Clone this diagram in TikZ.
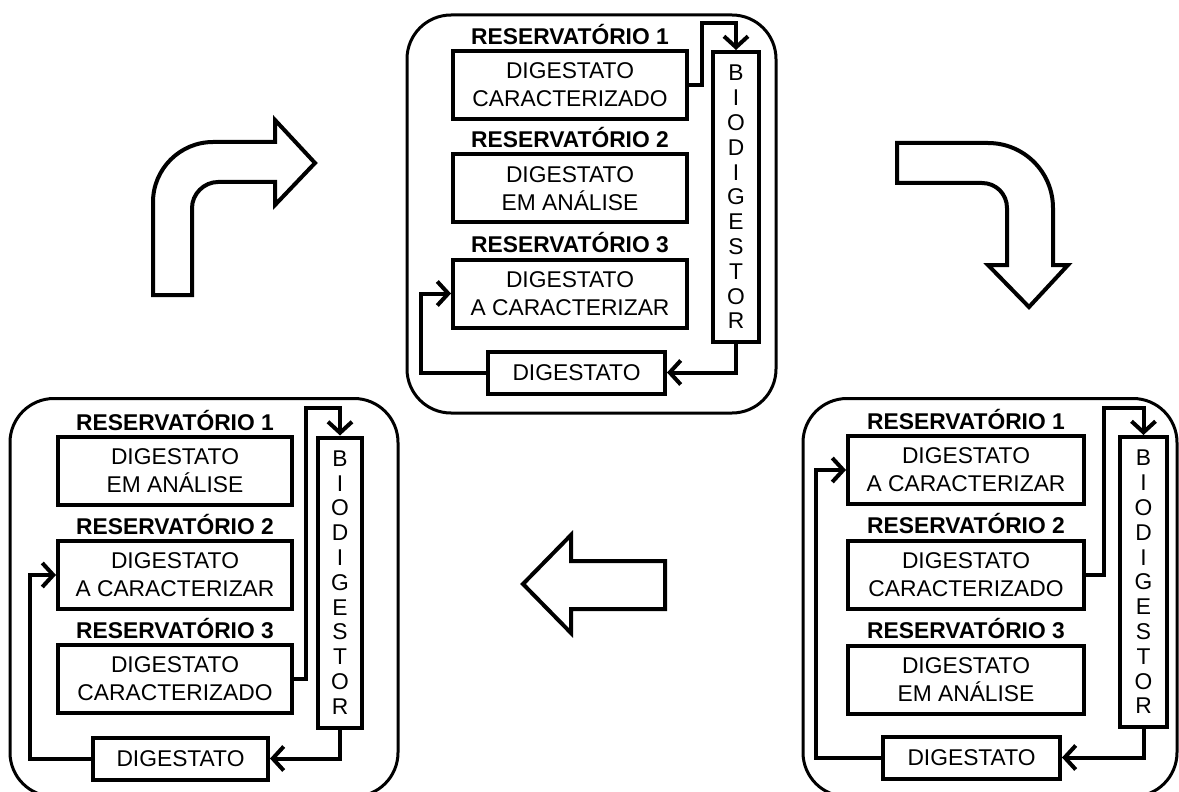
\documentclass[tikz,border=0pt]{standalone}
\usepackage{fontspec}
\setmainfont{Liberation Sans}
\usetikzlibrary{arrows.meta,positioning,calc}
\begin{document}
\begin{tikzpicture}[x=0.5pt, y=-0.5pt, >={Straight Barb[length=5.5pt,width=12pt]}]
	\tikzstyle{panel} = [rectangle, rounded corners=22pt, minimum height=199pt, line width=1.5pt, draw=black]
	\tikzstyle{tank} = [rectangle, minimum width=117pt, minimum height=34pt, line width=2pt,
	align=center, draw=black, font=\fontsize{11.4}{14}\selectfont]
	\tikzstyle{tanklabel} = [inner sep=0pt, font=\fontsize{11.4}{14}\selectfont\bfseries]
	\tikzstyle{bio} = [rectangle, minimum height=145pt, line width=2pt, align=center,
	draw=black, font=\fontsize{11.4}{12.4}\selectfont]
	\tikzstyle{outbox} = [rectangle, minimum height=21pt, line width=2pt, text centered,
	draw=black, font=\fontsize{11.4}{14}\selectfont]
	\tikzstyle{flow} = [->, line width=2pt]
	\tikzstyle{bigarrow} = [line width=2pt, line join=miter]
	\useasboundingbox (0,0) rectangle (1179,792);
	% top panel
	\node (top_panel) at (591.5,214) [panel, minimum width=184.5pt] {};
	\node (top_tank_1) at (570,85) [tank] {DIGESTATO\\CARACTERIZADO};
	\node (top_tank_2) at (570,188.5) [tank] {DIGESTATO\\EM ANÁLISE};
	\node (top_tank_3) at (570,293.5) [tank] {DIGESTATO\\A CARACTERIZAR};
	\node (top_label_1) [tanklabel, above=2pt of top_tank_1] {RESERVATÓRIO 1};
	\node (top_label_2) [tanklabel, above=2pt of top_tank_2] {RESERVATÓRIO 2};
	\node (top_label_3) [tanklabel, above=2pt of top_tank_3] {RESERVATÓRIO 3};
	\node (top_bio) at (736,197) [bio, minimum width=23pt] {B\\I\\O\\D\\I\\G\\E\\S\\T\\O\\R};
	\node (top_out) at (576.5,372.5) [outbox, minimum width=88.5pt] {DIGESTATO};
	\draw[flow] (top_tank_1.east) -- ++(13,0) |- ($(top_bio.north)+(0,-27)$) -- (top_bio.north);
	\draw[flow] (top_bio.south) |- (top_out.east);
	\draw[flow] (top_out.west) -| ($(top_tank_3.west)+(-30,0)$) -- (top_tank_3.west);
	% bottom left panel
	\node (left_panel) at (204,597.5) [panel, minimum width=194pt] {};
	\node (left_tank_1) at (175,471) [tank] {DIGESTATO\\EM ANÁLISE};
	\node (left_tank_2) at (175,575) [tank] {DIGESTATO\\A CARACTERIZAR};
	\node (left_tank_3) at (175,679) [tank] {DIGESTATO\\CARACTERIZADO};
	\node (left_label_1) [tanklabel, above=2pt of left_tank_1] {RESERVATÓRIO 1};
	\node (left_label_2) [tanklabel, above=2pt of left_tank_2] {RESERVATÓRIO 2};
	\node (left_label_3) [tanklabel, above=2pt of left_tank_3] {RESERVATÓRIO 3};
	\node (left_bio) at (340,582.5) [bio, minimum width=22pt] {B\\I\\O\\D\\I\\G\\E\\S\\T\\O\\R};
	\node (left_out) at (180.5,758.5) [outbox, minimum width=87.5pt] {DIGESTATO};
	\draw[flow] (left_tank_3.east) -- ++(12,0) |- ($(left_bio.north)+(0,-28)$) -- (left_bio.north);
	\draw[flow] (left_bio.south) |- (left_out.east);
	\draw[flow] (left_out.west) -| ($(left_tank_2.west)+(-26,0)$) -- (left_tank_2.west);
	% bottom right panel
	\node (right_panel) at (990,597.5) [panel, minimum width=187pt] {};
	\node (right_tank_1) at (966,470) [tank, minimum width=118pt] {DIGESTATO\\A CARACTERIZAR};
	\node (right_tank_2) at (966,574.5) [tank, minimum width=118pt] {DIGESTATO\\CARACTERIZADO};
	\node (right_tank_3) at (966,679.5) [tank, minimum width=118pt] {DIGESTATO\\EM ANÁLISE};
	\node (right_label_1) [tanklabel, above=2pt of right_tank_1] {RESERVATÓRIO 1};
	\node (right_label_2) [tanklabel, above=2pt of right_tank_2] {RESERVATÓRIO 2};
	\node (right_label_3) [tanklabel, above=2pt of right_tank_3] {RESERVATÓRIO 3};
	\node (right_bio) at (1143.5,582) [bio, minimum width=23.5pt] {B\\I\\O\\D\\I\\G\\E\\S\\T\\O\\R};
	\node (right_out) at (971.5,757.5) [outbox, minimum width=88.5pt] {DIGESTATO};
	\draw[flow] (right_tank_2.east) -- ++(18,0) |- ($(right_bio.north)+(0,-27)$) -- (right_bio.north);
	\draw[flow] (right_bio.south) |- (right_out.east);
	\draw[flow] (right_out.west) -| ($(right_tank_1.west)+(-30,0)$) -- (right_tank_1.west);
	% big arrows
	\draw[bigarrow] (153,295) -- (153,202) .. controls (153,169) and (180,142) .. (213,142)
		-- (275,142) -- (275,120) -- (315,163) -- (275,205) -- (275,182) -- (218,182)
		.. controls (204,182) and (192,194) .. (192,208) -- (192,295) -- cycle;
	\draw[bigarrow] (897,143) -- (988,143) .. controls (1024,143) and (1053,172) .. (1053,208)
		-- (1053,265) -- (1068,265) -- (1029,307) -- (988,265) -- (1007,265) -- (1007,208)
		.. controls (1007,194) and (996,183) .. (982,183) -- (897,183) -- cycle;
	\draw[bigarrow] (665,561) -- (571,561) -- (571,535) -- (523,584) -- (571,633)
		-- (571,609) -- (665,609) -- cycle;
\end{tikzpicture}
\end{document}
